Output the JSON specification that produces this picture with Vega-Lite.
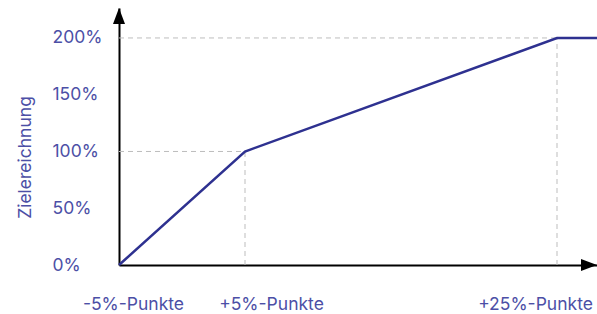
{
  "$schema": "https://vega.github.io/schema/vega-lite/v6.json",
  "autosize": "none",
  "width": 478,
  "height": 257,
  "padding": {"left": 119, "top": 8, "right": 0, "bottom": 49},
  "background": "white",
  "config": {"view": {"stroke": null}, "font": "Inter"},
  "datasets": {
    "curve": [
      {"abw": -5, "ziel": 0},
      {"abw": 5, "ziel": 100},
      {"abw": 25, "ziel": 200},
      {"abw": 30, "ziel": 200}
    ],
    "guides": [
      {"x1": -5, "x2": 5, "y1": 100, "y2": 100},
      {"x1": -5, "x2": 25, "y1": 200, "y2": 200},
      {"x1": 5, "x2": 5, "y1": 0, "y2": 100},
      {"x1": 25, "x2": 25, "y1": 0, "y2": 200}
    ],
    "arrows": [
      {"abw": -5, "ziel": 219.4, "dir": "up"},
      {"abw": 29, "ziel": 0, "dir": "right"}
    ]
  },
  "encoding": {},
  "layer": [
    {
      "data": {"name": "guides"},
      "mark": {"type": "rule", "color": "#bdbdbd", "strokeDash": [5, 4], "strokeWidth": 1},
      "encoding": {
        "x": {"field": "x1", "type": "quantitative"},
        "x2": {"field": "x2"},
        "y": {"field": "y1", "type": "quantitative"},
        "y2": {"field": "y2"}
      }
    },
    {
      "data": {"name": "curve"},
      "mark": {"type": "line", "color": "#2e3190", "strokeWidth": 2.5},
      "encoding": {
        "x": {
          "field": "abw", "type": "quantitative",
          "scale": {"domain": [-5, 5, 25, 30], "range": [0, 126, 438, 478], "clamp": false},
          "axis": {
            "values": [-5, 5, 25],
            "labelExpr": "(datum.value > 0 ? '+' : '') + datum.value + '%-Punkte'",
            "title": null,
            "grid": false,
            "ticks": false,
            "labelFlush": false,
            "labelOverlap": false,
            "domainColor": "#000000",
            "domainWidth": 2,
            "labelPadding": 30,
            "labelColor": "#4c4fa6",
            "labelFontSize": 17.5,
            "labelFont": "Inter",
            "labelOffset": {"expr": "datum.value == -5 ? 14 : (datum.value == 5 ? 26 : -22)"}
          }
        },
        "y": {
          "field": "ziel", "type": "quantitative",
          "scale": {"domain": [0, 226.4], "nice": false},
          "axis": {
            "values": [0, 50, 100, 150, 200],
            "labelExpr": "datum.value + '%'",
            "title": "Zielereichnung",
            "titleColor": "#4c4fa6",
            "titleFont": "Inter",
            "titleFontSize": 17.5,
            "titleFontWeight": "normal",
            "titleX": -94,
            "titleY": 149,
            "titleBaseline": "middle",
            "titleAngle": -90,
            "grid": false,
            "ticks": false,
            "domainColor": "#000000",
            "domainWidth": 2,
            "labelAlign": "left",
            "labelPadding": 67,
            "labelColor": "#4c4fa6",
            "labelFontSize": 17.5,
            "labelFont": "Inter"
          }
        }
      }
    },
    {
      "data": {"name": "arrows"},
      "mark": {"type": "point", "filled": true, "color": "#000000", "opacity": 1},
      "encoding": {
        "x": {"field": "abw", "type": "quantitative"},
        "y": {"field": "ziel", "type": "quantitative"},
        "shape": {
          "field": "dir", "type": "nominal",
          "scale": {"domain": ["up", "right"], "range": ["M0,-1L0.75,1L-0.75,1Z", "M1,0L-1,0.75L-1,-0.75Z"]},
          "legend": null
        },
        "size": {"value": 256}
      }
    }
  ]
}
